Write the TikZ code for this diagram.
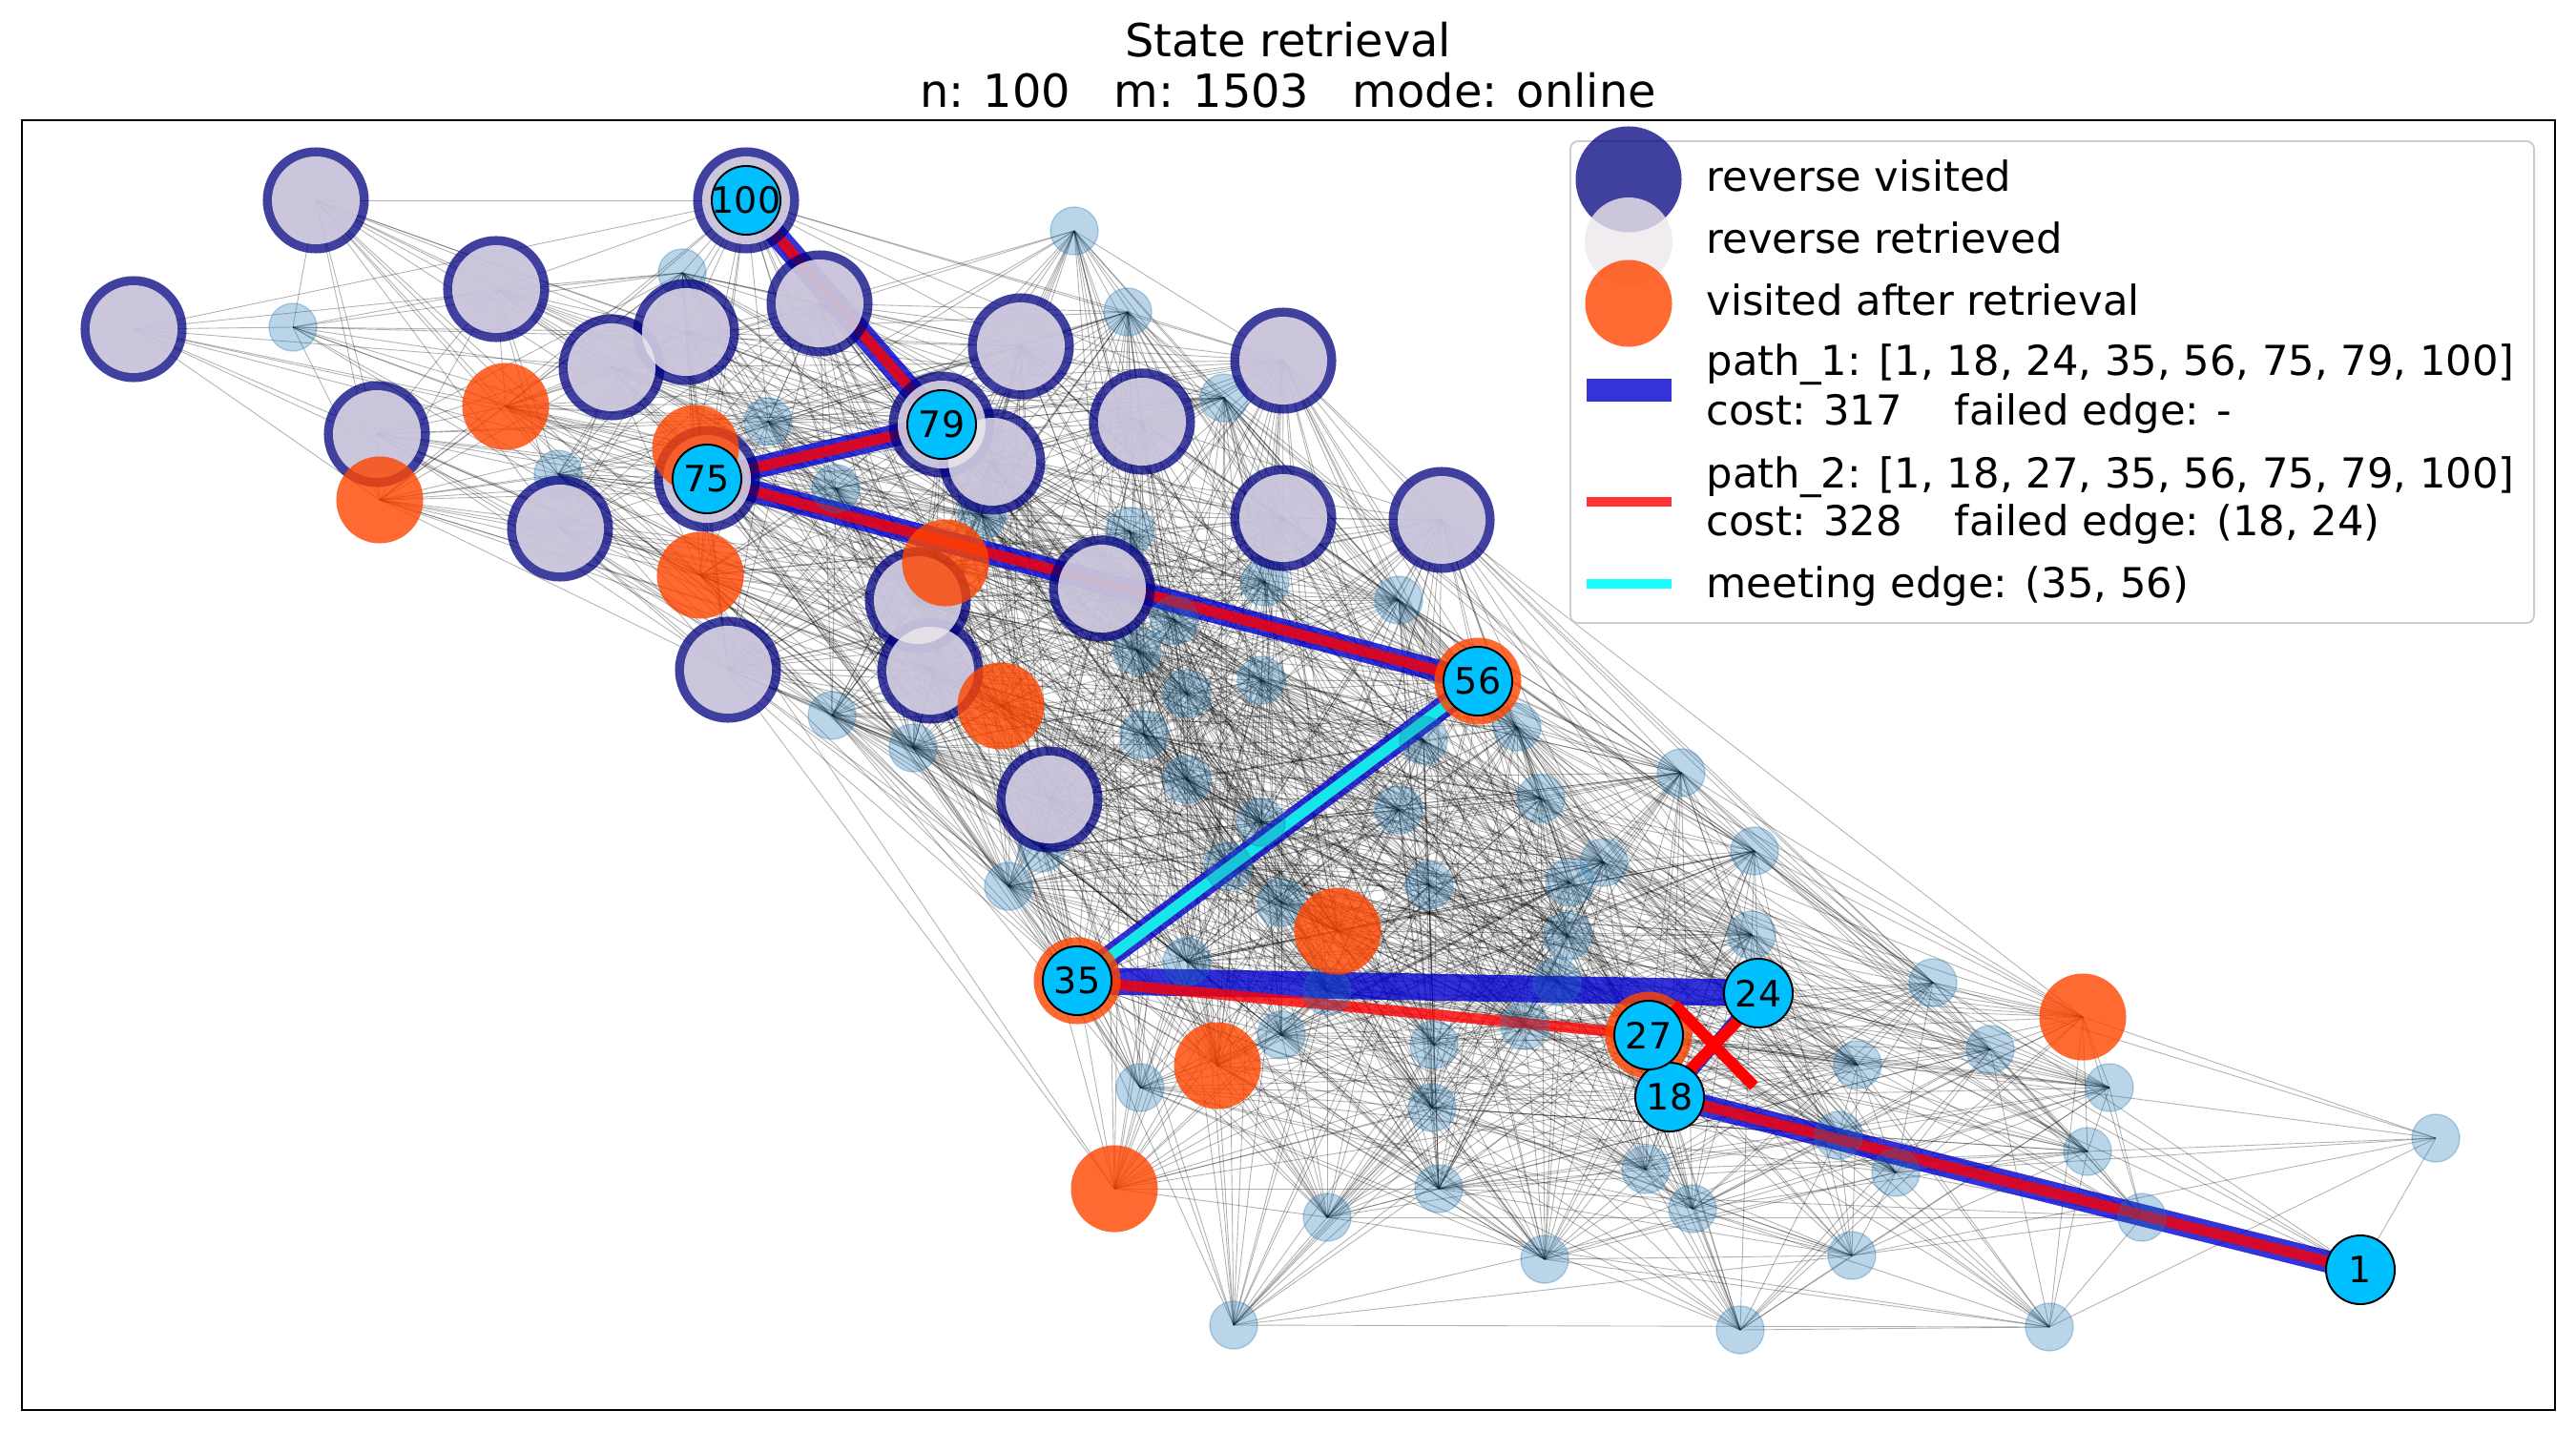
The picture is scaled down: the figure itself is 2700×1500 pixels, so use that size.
\documentclass[tikz,border=0pt]{standalone}
\usepackage{fontspec}
\setmainfont{DejaVu Sans}
\usetikzlibrary{backgrounds,calc}
\definecolor{tabblue}{RGB}{31,119,180}
\definecolor{revnavy}{RGB}{0,0,128}
\definecolor{retrwhite}{RGB}{238,232,236}
\definecolor{afterorange}{RGB}{255,69,0}
\definecolor{pathcyan}{RGB}{0,191,255}
\definecolor{onepath}{RGB}{0,0,205}
\definecolor{twopath}{RGB}{255,0,0}
\definecolor{meetcyan}{RGB}{0,255,255}
\definecolor{legendgray}{RGB}{204,204,204}
\newcommand\titlefont{\fontsize{13.6}{16}\selectfont}
\newcommand\legendfont{\fontsize{12.3}{14.8}\selectfont}
\newcommand\labelfont{\fontsize{10.8}{13}\selectfont}
\tikzset{
  every vertex/.style={circle,inner sep=0pt,outer sep=0pt},
  plain vertex/.style={every vertex,minimum size=0.5cm,fill=tabblue,draw=tabblue,
    fill opacity=0.3,draw opacity=0.3,line width=0.4pt},
  reverse visited/.style={every vertex,minimum size=1.11cm,fill=revnavy,fill opacity=0.75},
  reverse retrieved/.style={every vertex,minimum size=0.92cm,fill=retrwhite,fill opacity=0.8},
  after retrieval/.style={every vertex,minimum size=0.91cm,fill=afterorange,fill opacity=0.8},
  path vertex/.style={every vertex,minimum size=0.72cm,fill=pathcyan,draw=black,
    line width=0.55pt,font=\labelfont},
  link/.style={black,opacity=0.3,line width=0.25pt},
  path one/.style={draw=onepath,draw opacity=0.8,line width=6.6pt},
  path two/.style={draw=twopath,draw opacity=0.8,line width=3.2pt},
  meeting/.style={draw=meetcyan,draw opacity=0.9,line width=3.2pt},
  failed/.style={twopath,line width=3.4pt},
  legend text/.style={anchor=base west,inner sep=0pt,font=\legendfont},
}
\def\linkreach{284.5}% 1000px, in pt

\begin{document}
\begin{tikzpicture}[x=0.01cm,y=-0.01cm]
\useasboundingbox (0,0) rectangle (2700,1500);

% vertex positions (px): plain, reverse visited, visited after retrieval, path
\foreach \x/\y [count=\k] in {1126/242, 715/286, 307/343, 1182/327, 1283/417,
  805/442, 585/497, 876/512, 1029/540, 1184/557, 1326/610, 1231/650, 1192/682,
  1322/713, 1244/727, 872/750, 957/784, 1199/770, 1244/817, 1092/889, 1057/929,
  1322/862, 1287/908, 1343/946, 1244/1008, 1343/1085, 1195/1140, 1293/1389,
  1466/629, 1590/762, 1492/776, 1762/810, 1466/849, 1615/837, 1839/892,
  1681/904, 1498/928, 1645/925, 1643/981, 1836/980, 1391/1039, 1632/1029,
  2026/1030, 1598/1075, 1503/1095, 2086/1100, 1947/1116, 2211/1140, 1501/1161,
  1927/1190, 2188/1207, 2553/1193, 1725/1226, 1987/1229, 1508/1246, 1774/1267,
  1391/1276, 2245/1276, 1619/1320, 1941/1316, 1824/1394, 2148/1391}
  \coordinate (v\k) at (\x,\y);
\foreach \x/\y [count=\k from 63] in {331/210, 140/345, 520/303, 859/318,
  719/348, 641/385, 395/455, 1070/363, 1040/484, 1197/442, 1345/378, 587/554,
  962/629, 1155/617, 1345/543, 763/702, 975/703, 1100/838, 1511/545}
  \coordinate (v\k) at (\x,\y);
\foreach \x/\y [count=\k from 82] in {530/426, 729/470, 398/524, 734/603,
  991/590, 1049/740, 1402/976, 2183/1066, 1276/1117, 1168/1246}
  \coordinate (v\k) at (\x,\y);
\foreach \x/\y [count=\k from 92] in {2474/1331, 1750/1150, 1843/1041,
  1728/1085, 1129/1028, 1549/714, 741/502, 987/445, 782/210}
  \coordinate (v\k) at (\x,\y);

% discs
\foreach \k in {1,...,62} \node[plain vertex] (d\k) at (v\k) {};
\foreach \k in {63,...,81,98,99,100} \node[reverse visited] (rv\k) at (v\k) {};
\foreach \k in {63,...,81,98,99,100} \node[reverse retrieved] (rr\k) at (v\k) {};
\foreach \k in {82,...,91,95,96,97} \node[after retrieval] (ar\k) at (v\k) {};

% failed edge (18, 24)
\coordinate (cut) at ($(v93)!0.5!(v94)$);
\draw[failed] ([shift={(-42,-43)}]cut) -- ([shift={(42,43)}]cut);
\draw[failed] ([shift={(-42,43)}]cut) -- ([shift={(42,-43)}]cut);

\foreach \lab [count=\k from 92] in {1,18,24,27,35,56,75,79,100}
  \node[path vertex] (n\lab) at (v\k) {\makebox[0pt]{\lab}};

\begin{pgfonlayer}{background}
  \fill[white] (0,0) rectangle (2700,1500);
  % the m edges
  \pgfmathsetseed{1503}
  \foreach \i in {1,...,99}{
    \pgfmathtruncatemacro\nxt{\i+1}
    \foreach \j in {\nxt,...,100}{
      \pgfpointdiff{\pgfpointanchor{v\i}{center}}{\pgfpointanchor{v\j}{center}}
      \pgfgetlastxy{\dx}{\dy}
      \pgfmathsetmacro\reach{veclen(\dx,\dy)/\linkreach}
      \pgfmathsetmacro\luck{rnd}
      \ifdim\reach pt<\luck pt
        \draw[link] (v\i) -- (v\j);
      \fi
    }
  }
  % path_1, path_2, meeting edge
  \foreach \a/\b in {1/18, 35/56, 56/75, 75/79, 79/100}
    \draw[path one] (n\a.center) -- (n\b.center);
  \draw[path one,line width=8pt] (n24.center) -- (n35.center);
  \draw[path one,line width=3.6pt] (n18.center) -- (n24.center);
  \foreach \a/\b in {1/18, 18/27, 27/35, 35/56, 56/75, 75/79, 79/100}
    \draw[path two] (n\a.center) -- (n\b.center);
  \draw[meeting] (n35.center) -- (n56.center);
\end{pgfonlayer}

% axes frame and title
\draw[line width=0.57pt] (23,126) rectangle (2678,1478);
\node[anchor=base,inner sep=0pt,font=\titlefont] (title) at (1350,60) {State retrieval};
\node[anchor=base,inner sep=0pt,font=\titlefont] (subtitle) at (1350,113)
  {n: 100\ \ \ m: 1503\ \ \ mode: online};

% legend
\draw[draw=legendgray,line width=0.55pt,fill=white,fill opacity=0.8,rounded corners=0.08cm]
  (1646,148) rectangle (2656,653);
\node[reverse visited] (keyrv) at (1707,188) {};
\node[reverse retrieved] (keyrr) at (1707,253) {};
\node[after retrieval] (keyar) at (1707,318) {};
\fill[onepath,opacity=0.8] (1663,397) rectangle (1752,421);
\fill[twopath,opacity=0.8] (1663,521) rectangle (1752,531);
\fill[meetcyan,opacity=0.9] (1663,607) rectangle (1752,617);
\node[legend text] (txtrv) at (1788,200) {reverse visited};
\node[legend text] (txtrr) at (1788,265) {reverse retrieved};
\node[legend text] (txtar) at (1788,330) {visited after retrieval};
\node[legend text] (txtp1) at (1788,393) {path\_1: [1, 18, 24, 35, 56, 75, 79, 100]};
\node[legend text] (txtc1) at (1788,445) {cost: 317\ \ \ \ failed edge: -};
\node[legend text] (txtp2) at (1788,511) {path\_2: [1, 18, 27, 35, 56, 75, 79, 100]};
\node[legend text] (txtc2) at (1788,561) {cost: 328\ \ \ \ failed edge: (18, 24)};
\node[legend text] (txtme) at (1788,626) {meeting edge: (35, 56)};
\end{tikzpicture}
\end{document}
